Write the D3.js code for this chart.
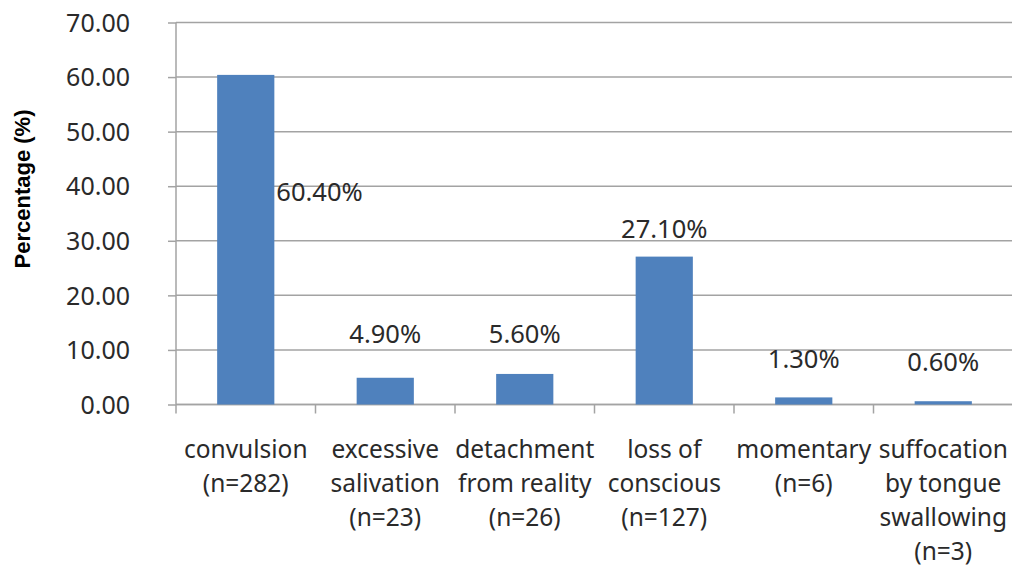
<!DOCTYPE html>
<html>
<head>
<meta charset="utf-8">
<script src="https://cdn.jsdelivr.net/npm/d3@7"></script>
<style>
  body { margin: 0; background: #fff; }
  svg { display: block; }
  .axis text { font-family: "Noto Sans", sans-serif; font-size: 25px; fill: #2a2a2a; }
</style>
</head>
<body>
<svg width="1012" height="565"></svg>
<script>
// categories (each label line) and percentages
var categories = [
  ["convulsion", "(n=282)"],
  ["excessive", "salivation", "(n=23)"],
  ["detachment", "from reality", "(n=26)"],
  ["loss of", "conscious", "(n=127)"],
  ["momentary", "(n=6)"],
  ["suffocation", "by tongue", "swallowing", "(n=3)"]
];
var percents = [60.4, 4.9, 5.6, 27.1, 1.3, 0.6];
var valueLabels = ["60.40%", "4.90%", "5.60%", "27.10%", "1.30%", "0.60%"];
var yTicks = [0, 10, 20, 30, 40, 50, 60, 70];

var svg = d3.select("svg"),
    margin = {top: 22.5, right: -1, bottom: 160.5, left: 176},
    width = svg.attr("width") - margin.left - margin.right,
    height = svg.attr("height") - margin.top - margin.bottom,
    g = svg.append("g").attr("transform", "translate(" + margin.left + "," + margin.top + ")");

var ids = categories.map(function(d, i) { return i; });

var x = d3.scaleBand().domain(ids).range([0, width]).paddingInner(0).paddingOuter(0);
var y = d3.scaleLinear().domain([0, 70]).range([height, 0]);
var barW = x.bandwidth() * 0.41;

// gridlines
g.append("g")
  .selectAll("line")
  .data(yTicks)
  .enter().append("line")
    .attr("x1", 0).attr("x2", width)
    .attr("y1", function(d) { return y(d); })
    .attr("y2", function(d) { return y(d); })
    .style("stroke", "#a3a3a3")
    .style("stroke-width", 1.5);

// y axis
var yAxis = g.append("g")
  .attr("class", "axis")
  .call(d3.axisLeft(y).tickValues(yTicks).tickSize(8).tickPadding(38).tickFormat(d3.format(".2f")));
yAxis.selectAll("line, path").style("stroke", "#a3a3a3").style("stroke-width", 1.5);
yAxis.select(".domain").attr("d", "M0," + y(0) + "V" + y(70));
yAxis.selectAll("text").attr("dy", "0.35em");

// x axis: ticks at band boundaries
var xAxis = g.append("g")
  .attr("transform", "translate(0," + height + ")");
xAxis.append("line")
  .attr("x1", 0).attr("x2", width)
  .style("stroke", "#a3a3a3").style("stroke-width", 1.5);
xAxis.selectAll(".tk")
  .data(ids.concat([ids.length]))
  .enter().append("line")
    .attr("class", "tk")
    .attr("x1", function(d) { return d * x.step(); })
    .attr("x2", function(d) { return d * x.step(); })
    .attr("y1", 0).attr("y2", 9)
    .style("stroke", "#a3a3a3").style("stroke-width", 1.5);

xAxis.selectAll("text")
  .data(categories)
  .enter().append("text")
    .attr("text-anchor", "middle")
    .style("font-family", "'Noto Sans', sans-serif")
    .style("font-size", "24.5px")
    .style("fill", "#2a2a2a")
    .attr("transform", function(d, i) { return "translate(" + (x(i) + x.bandwidth() / 2) + ",53)"; })
    .selectAll("tspan")
    .data(function(d) { return d; })
    .enter().append("tspan")
      .attr("x", 0)
      .attr("y", function(d, j) { return j * 34; })
      .text(function(d) { return d; });

// bars
g.selectAll(".bar")
  .data(percents)
  .enter().append("rect")
    .attr("class", "bar")
    .attr("x", function(d, i) { return x(i) + (x.bandwidth() - barW) / 2; })
    .attr("width", barW)
    .attr("y", function(d) { return y(d); })
    .attr("height", function(d) { return height - y(d); })
    .style("fill", "#4f81bd");

// value labels (hand-placed in the original chart)
var lift = [0, 44, 40, 28, 38, 39];
g.selectAll(".lbl")
  .data(percents)
  .enter().append("text")
    .attr("class", "lbl")
    .style("font-family", "'Noto Sans', sans-serif")
    .style("font-size", "25.5px")
    .style("fill", "#2a2a2a")
    .attr("dy", "0.35em")
    .attr("text-anchor", function(d, i) { return i === 0 ? "start" : "middle"; })
    .attr("x", function(d, i) {
      var cx = x(i) + x.bandwidth() / 2;
      return i === 0 ? cx + barW / 2 + 2 : cx;
    })
    .attr("y", function(d, i) { return i === 0 ? y(d) + 117 : y(d) - lift[i]; })
    .text(function(d, i) { return valueLabels[i]; });

// y title
svg.append("text")
  .attr("transform", "translate(30,189) rotate(-90)")
  .attr("text-anchor", "middle")
  .style("font-family", "'Liberation Sans', Arial, sans-serif")
  .style("font-weight", "bold")
  .style("font-size", "22px")
  .style("fill", "#000")
  .text("Percentage (%)");
</script>
</body>
</html>
